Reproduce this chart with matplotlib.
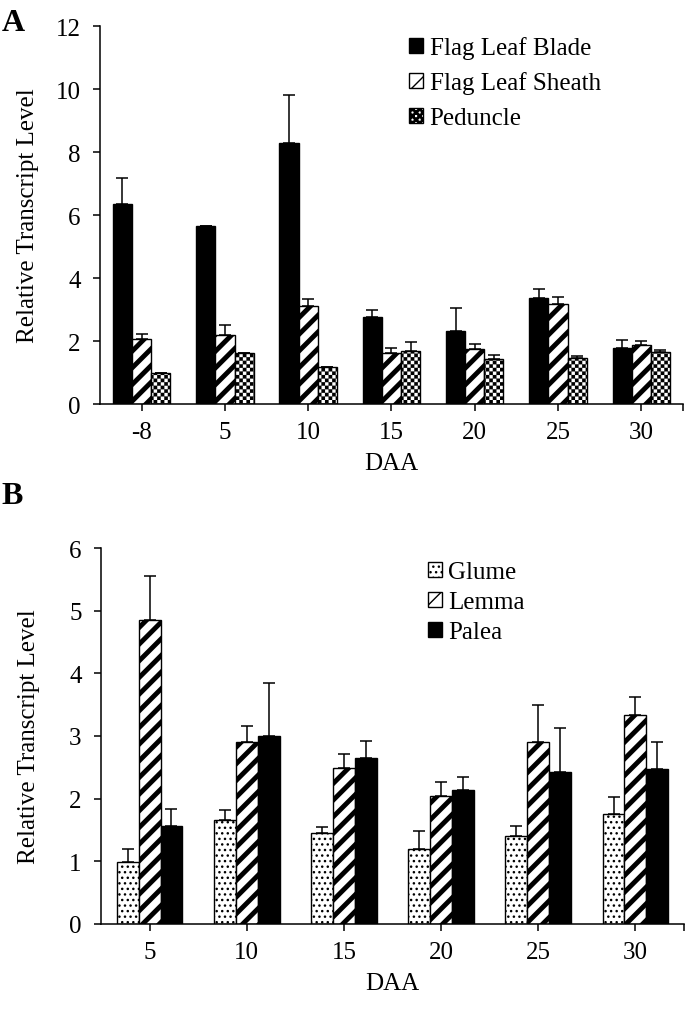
import numpy as np
import matplotlib
matplotlib.use("Agg")
import matplotlib.pyplot as plt
import matplotlib.hatch as mhatch
from matplotlib.path import Path

# Panel A: flag leaf blade / sheath / peduncle
daa_a = ["-8", "5", "10", "15", "20", "25", "30"]
blade = [6.35, 5.65, 8.29, 2.75, 2.32, 3.35, 1.77]
blade_err = [0.82, 0.0, 1.52, 0.23, 0.73, 0.30, 0.27]
sheath = [2.06, 2.19, 3.10, 1.62, 1.75, 3.17, 1.88]
sheath_err = [0.16, 0.32, 0.23, 0.16, 0.15, 0.24, 0.12]
peduncle = [1.00, 1.62, 1.17, 1.68, 1.43, 1.45, 1.65]
peduncle_err = [0.0, 0.0, 0.0, 0.29, 0.11, 0.07, 0.06]

# Panel B: glume / lemma / palea
daa_b = ["5", "10", "15", "20", "25", "30"]
glume = [0.99, 1.66, 1.45, 1.19, 1.40, 1.75]
glume_err = [0.20, 0.16, 0.10, 0.29, 0.17, 0.28]
lemma = [4.85, 2.91, 2.49, 2.04, 2.90, 3.33]
lemma_err = [0.70, 0.25, 0.23, 0.22, 0.60, 0.29]
palea = [1.56, 3.00, 2.65, 2.14, 2.42, 2.47]
palea_err = [0.27, 0.84, 0.27, 0.20, 0.71, 0.43]


# checkerboard hatch, mapped onto '*'
class CheckerHatch(mhatch.HatchPatternBase):
    def __init__(self, hatch, density):
        self.n = hatch.count("*") * 28
        self.cells = [(i, j) for i in range(self.n) for j in range(self.n)
                      if (i + j) % 2 == 0]
        self.num_vertices = len(self.cells) * 5

    def set_vertices_and_codes(self, vertices, codes):
        s = 1.0 / self.n
        k = 0
        for i, j in self.cells:
            x0, y0 = i * s, j * s
            vertices[k:k + 5] = [(x0, y0), (x0 + s, y0), (x0 + s, y0 + s),
                                 (x0, y0 + s), (x0, y0)]
            codes[k] = Path.MOVETO
            codes[k + 1:k + 4] = Path.LINETO
            codes[k + 4] = Path.CLOSEPOLY
            k += 5


mhatch._hatch_types = [t for t in mhatch._hatch_types if t is not mhatch.Stars] + [CheckerHatch]

plt.rcParams["font.family"] = ["Liberation Serif", "DejaVu Serif"]
plt.rcParams["font.size"] = 18
plt.rcParams["axes.linewidth"] = 1.1
plt.rcParams["hatch.color"] = "black"


def panel(ax, labels, series, width, ymax, ystep):
    x = np.arange(len(labels))
    n = len(series)
    for k, (vals, errs, hatch, face, hlw, name) in enumerate(series):
        pos = x + (k - (n - 1) / 2) * width
        with plt.rc_context({"hatch.linewidth": hlw}):
            ax.bar(pos, vals, width, color=face, edgecolor="black", linewidth=1.0,
                   hatch=hatch, label=name, zorder=2)
        errs = np.asarray(errs)
        ax.errorbar(pos, vals, yerr=[np.zeros_like(errs), errs], fmt="none",
                    ecolor="black", elinewidth=1.1, capsize=4, capthick=1.1, zorder=1)
    ax.set_xlim(-0.5, len(labels) - 0.5)
    ax.set_ylim(0, ymax)
    ax.set_yticks(np.arange(0, ymax + 0.01, ystep))
    ax.set_xticks(x)
    ax.set_xticklabels(labels)
    ax.set_xticks([len(labels) - 0.5], minor=True)
    ax.spines["top"].set_visible(False)
    ax.spines["right"].set_visible(False)
    ax.tick_params(axis="x", which="both", direction="out", length=5, width=1.1, pad=7)
    ax.tick_params(axis="y", direction="out", length=5, width=1.1, pad=9)
    ax.set_xlabel("DAA", labelpad=7)
    ax.set_ylabel("Relative Transcript Level")
    ax.yaxis.set_label_coords(-0.105, 0.5)


fig = plt.figure(figsize=(6.85, 10.12), dpi=100)
ax_a = fig.add_axes([0.146, 0.5998, 0.851, 0.3735])
ax_b = fig.add_axes([0.1475, 0.086, 0.851, 0.3715])

panel(ax_a, daa_a, [
    (blade, blade_err, None, "black", 1.0, "Flag Leaf Blade"),
    (sheath, sheath_err, "//", "white", 3.5, "Flag Leaf Sheath"),
    (peduncle, peduncle_err, "*", "white", 0.1, "Peduncle"),
], 0.23, 12, 2)

panel(ax_b, daa_b, [
    (glume, glume_err, "...", "white", 1.0, "Glume"),
    (lemma, lemma_err, "//", "white", 3.5, "Lemma"),
    (palea, palea_err, None, "black", 1.0, "Palea"),
], 0.225, 6, 1)

ax_a.legend(loc="upper left", bbox_to_anchor=(0.513, 1.0), frameon=False,
            handlelength=0.56, handleheight=0.56, handletextpad=0.26,
            labelspacing=0.5, borderaxespad=0)
ax_b.legend(loc="upper left", bbox_to_anchor=(0.543, 0.992), frameon=False,
            handlelength=0.56, handleheight=0.56, handletextpad=0.26,
            labelspacing=0.32, borderaxespad=0)

fig.text(0.002, 0.977, "A", fontsize=23, fontweight="bold", va="center", ha="left")
fig.text(0.002, 0.509, "B", fontsize=23, fontweight="bold", va="center", ha="left")

fig.savefig("out.png", dpi=100)
